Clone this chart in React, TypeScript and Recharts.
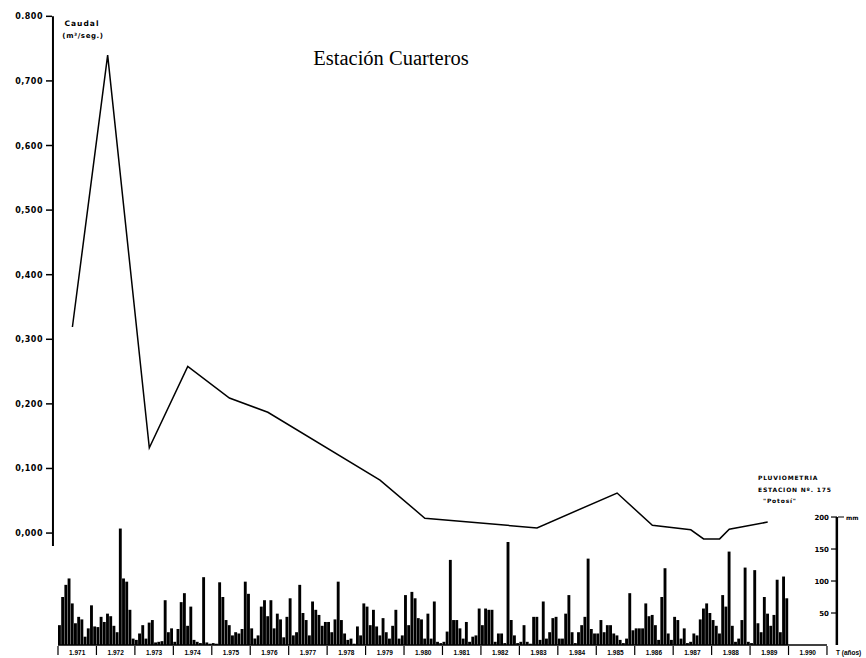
import { Bar, ComposedChart, Line, ReferenceLine, XAxis, YAxis } from 'recharts';

const firstYear = 1971;
const yearCount = 20; // the time axis runs 1971 .. 1990

// monthly rainfall (mm), station Potosí, one row per year 1971..1989
const rainMonthly: number[][] = [
  [31, 75, 94, 104, 65, 34, 44, 40, 13, 26, 62, 29], // 1971
  [28, 44, 36, 49, 45, 30, 20, 182, 104, 99, 55, 10], // 1972
  [8, 18, 31, 10, 35, 39, 4, 5, 6, 70, 20, 26], // 1973
  [5, 25, 67, 81, 30, 60, 8, 5, 3, 106, 4, 2], // 1974
  [3, 2, 98, 75, 39, 31, 15, 20, 18, 25, 99, 80], // 1975
  [26, 10, 15, 60, 70, 45, 70, 26, 49, 40, 12, 44], // 1976
  [73, 15, 20, 94, 50, 39, 15, 68, 55, 47, 30, 36], // 1977
  [36, 20, 40, 99, 39, 18, 8, 10, 2, 29, 15, 65], // 1978
  [60, 31, 55, 29, 15, 42, 20, 10, 30, 55, 10, 15], // 1979
  [78, 31, 83, 73, 42, 40, 10, 49, 10, 68, 5, 3], // 1980
  [5, 21, 133, 39, 39, 26, 10, 36, 5, 13, 15, 57], // 1981
  [31, 57, 55, 55, 5, 18, 18, 3, 161, 39, 15, 3], // 1982
  [5, 31, 5, 2, 44, 44, 8, 68, 10, 20, 42, 44], // 1983
  [10, 10, 49, 78, 20, 3, 20, 31, 44, 135, 25, 18], // 1984
  [18, 39, 20, 31, 31, 18, 15, 8, 3, 10, 81, 23], // 1985
  [26, 26, 26, 65, 45, 47, 31, 8, 75, 120, 18, 8], // 1986
  [44, 39, 10, 26, 3, 5, 18, 15, 40, 57, 65, 50], // 1987
  [39, 30, 18, 78, 60, 146, 30, 5, 10, 39, 121, 5], // 1988
  [3, 117, 34, 20, 75, 49, 30, 47, 102, 20, 107, 73], // 1989
];

// caudal (m3/seg) — month index (from Jan 1971) where each point sits, and its value
const caudalMonths = [4, 15, 28, 40, 53, 65, 100, 114, 149, 174, 185, 197, 201, 206, 209, 221];
const caudalValues = [
  0.319, 0.74, 0.132, 0.258, 0.209, 0.187, 0.082, 0.023, 0.008, 0.062, 0.012, 0.005, -0.009,
  -0.009, 0.006, 0.017,
];

const caudalTicks = [0, 0.1, 0.2, 0.3, 0.4, 0.5, 0.6, 0.7, 0.8];
const rainTicks = [50, 100, 150, 200];

const xMin = -1.87;
const xMax = 243.13;
const caudalDomain = [-0.1733, 0.8005];
const rainDomain = [0, 983];

const data = Array.from({ length: yearCount * 12 }, (_, m) => {
  const idx = caudalMonths.indexOf(m);
  return {
    t: m + 0.5,
    rain: rainMonthly[Math.floor(m / 12)]?.[m % 12],
    caudal: idx >= 0 ? caudalValues[idx] : undefined,
  };
});

const xTicks = Array.from({ length: yearCount * 2 + 1 }, (_, i) => i * 6);

const smallFont = 'DejaVu Sans, Verdana, sans-serif';

const YearTick = ({ x, y, payload }: any) => {
  const v = payload.value;
  if (v % 12 === 0) {
    return <line x1={x} y1={y + 1} x2={x} y2={y + 10} stroke="#000" strokeWidth={1.2} />;
  }
  const year = String(firstYear + Math.floor(v / 12));
  return (
    <text
      x={x}
      y={y + 10}
      textAnchor="middle"
      fontSize={6.5}
      fontWeight="bold"
      fontFamily="Liberation Sans, Arial, sans-serif"
      fill="#000"
    >
      {`${year[0]}.${year.slice(1)}`}
    </text>
  );
};

const formatCaudal = (v: number) => (v === 0.8 ? '0.800' : v.toFixed(3).replace('.', ','));

const CaudalTick = ({ x, y, payload }: any) => (
  <g>
    <line x1={x - 6} y1={y} x2={x} y2={y} stroke="#000" strokeWidth={1.5} />
    <text
      x={x - 9}
      y={y + 3}
      textAnchor="end"
      fontSize={8}
      fontWeight="bold"
      fontFamily={smallFont}
      letterSpacing={0.5}
      fill="#000"
    >
      {formatCaudal(payload.value)}
    </text>
  </g>
);

// rain ticks sit on the inner (left) side of the right axis
const RainTick = ({ x, y, payload }: any) => (
  <g>
    <line x1={x - 6} y1={y} x2={x} y2={y} stroke="#000" strokeWidth={1.2} />
    <text
      x={x - 8}
      y={y + 2.5}
      textAnchor="end"
      fontSize={7}
      fontWeight="bold"
      fontFamily={smallFont}
      fill="#000"
    >
      {payload.value}
    </text>
  </g>
);

export default function App() {
  return (
    <div style={{ position: 'absolute', left: 0, top: 0, width: 866, height: 658, background: '#fff' }}>
      <ComposedChart
        width={866}
        height={658}
        data={data}
        margin={{ top: 16, right: 0, bottom: 0, left: 8 }}
      >
        <XAxis
          dataKey="t"
          type="number"
          domain={[xMin, xMax]}
          allowDataOverflow
          ticks={xTicks}
          interval={0}
          tick={<YearTick />}
          tickLine={false}
          axisLine={false}
          tickSize={0}
          tickMargin={0}
          height={13}
        />
        <YAxis
          yAxisId="caudal"
          orientation="left"
          width={44}
          domain={caudalDomain}
          allowDataOverflow
          ticks={caudalTicks}
          interval={0}
          axisLine={false}
          tickLine={false}
          tickSize={0}
          tickMargin={0}
          tick={<CaudalTick />}
        />
        <YAxis
          yAxisId="rain"
          orientation="right"
          width={29}
          domain={rainDomain}
          allowDataOverflow
          ticks={rainTicks}
          interval={0}
          axisLine={false}
          tickLine={false}
          tickSize={0}
          tickMargin={0}
          tick={<RainTick />}
        />
        <Bar yAxisId="rain" dataKey="rain" fill="#000" barSize={3.4} isAnimationActive={false} />
        <Line
          yAxisId="caudal"
          dataKey="caudal"
          type="linear"
          stroke="#000"
          strokeWidth={1.5}
          dot={false}
          connectNulls
          isAnimationActive={false}
        />
        <ReferenceLine
          yAxisId="caudal"
          segment={[
            { x: xMin + 0.3, y: 0.8 },
            { x: xMin + 0.3, y: -0.02 },
          ]}
          stroke="#000"
          strokeWidth={2}
        />
        <ReferenceLine
          yAxisId="rain"
          segment={[{ x: 0, y: 0 }, { x: yearCount * 12, y: 0 }]}
          stroke="#000"
          strokeWidth={1.5}
        />
        <ReferenceLine
          yAxisId="rain"
          segment={[{ x: xMax - 0.05, y: 0 }, { x: xMax - 0.05, y: 200 }]}
          stroke="#000"
          strokeWidth={2.5}
        />
      </ComposedChart>
      <svg
        width={866}
        height={658}
        style={{ position: 'absolute', left: 0, top: 0, pointerEvents: 'none' }}
      >
        <text x={391} y={65} textAnchor="middle" fontSize={20.5} fontFamily="Liberation Serif, Times New Roman, serif">
          Estación Cuarteros
        </text>
        <text x={82} y={26} textAnchor="middle" fontSize={7.5} fontWeight="bold" fontFamily={smallFont} letterSpacing={1}>
          Caudal
        </text>
        <text x={83} y={38} textAnchor="middle" fontSize={7} fontWeight="bold" fontFamily={smallFont} letterSpacing={0.6}>
          (m³/seg.)
        </text>
        <g fontSize={6} fontWeight="bold" fontFamily={smallFont} letterSpacing={0.8}>
          <text x={758} y={480}>PLUVIOMETRIA</text>
          <text x={758} y={492}>ESTACION Nº. 175</text>
          <text x={763} y={503}>"Potosí"</text>
        </g>
        <line x1={838} y1={517} x2={844} y2={517} stroke="#000" strokeWidth={1} />
        <text x={846} y={520} fontSize={6} fontWeight="bold" fontFamily={smallFont}>
          mm
        </text>
        <text x={836} y={655} fontSize={6.5} fontWeight="bold" fontFamily="Liberation Sans, Arial, sans-serif">
          T (años)
        </text>
      </svg>
    </div>
  );
}
